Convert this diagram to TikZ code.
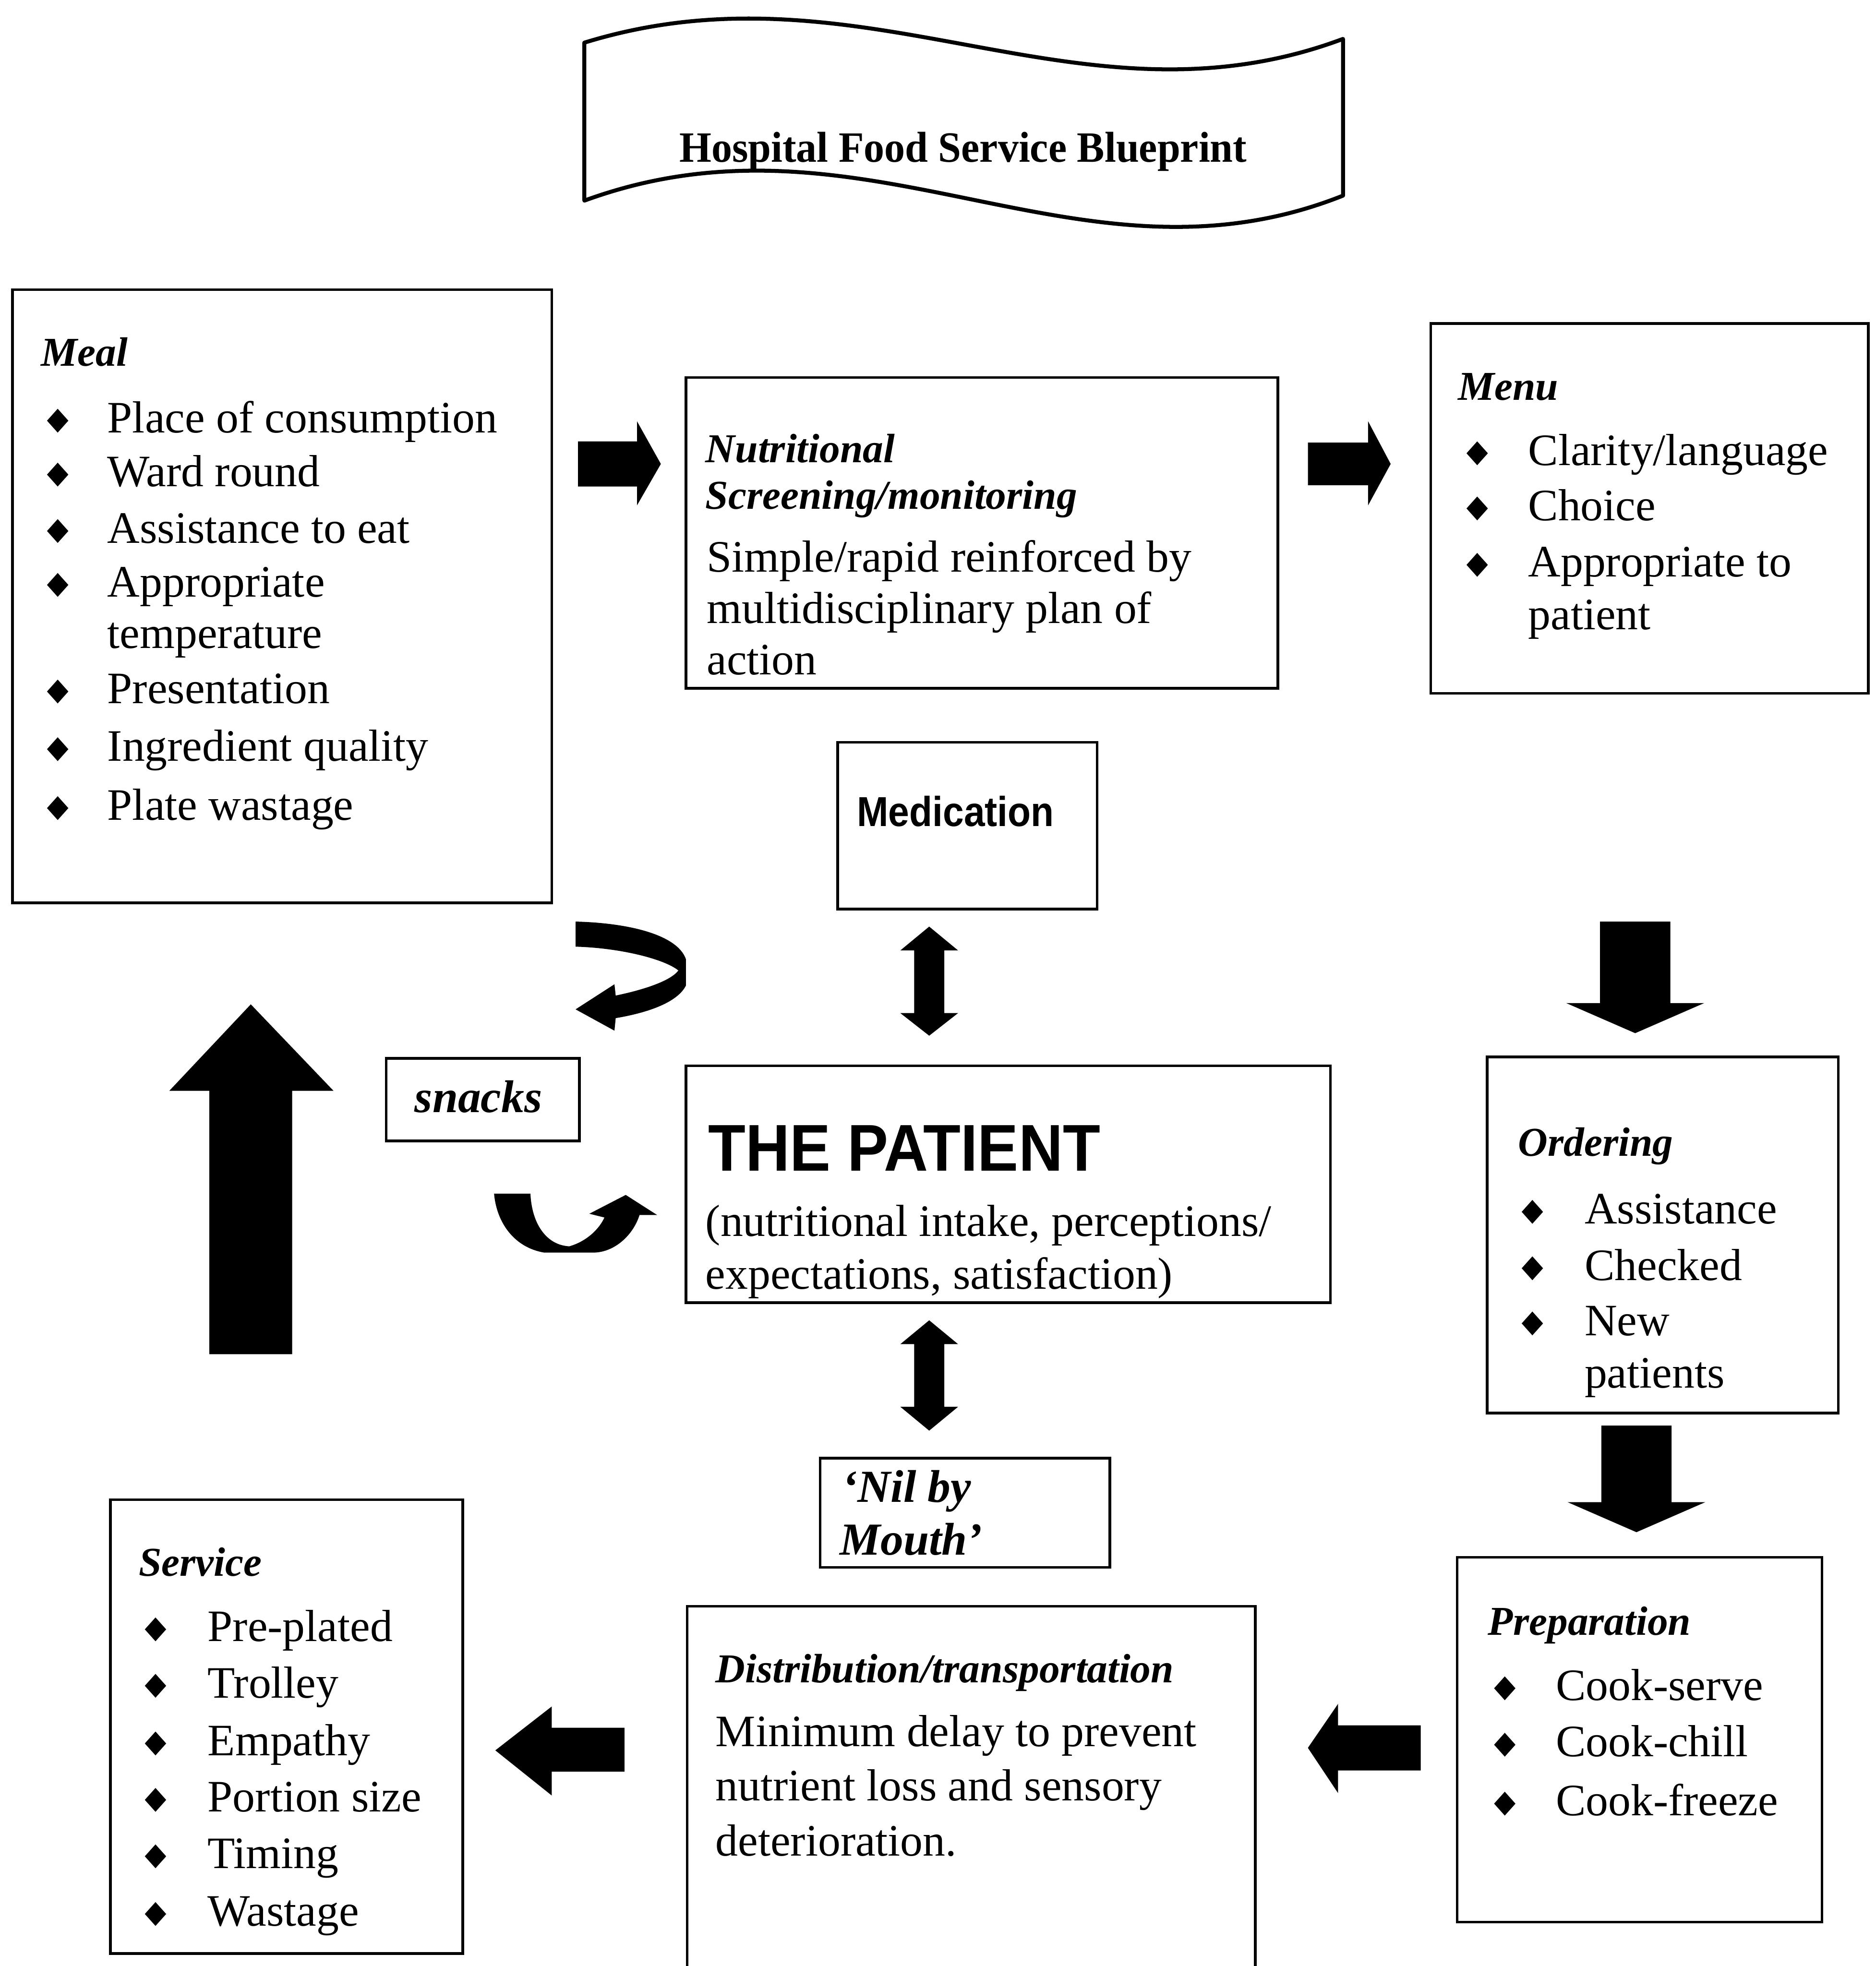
\documentclass[tikz,border=0pt]{standalone}
\usepackage{fontspec}
\usepackage{graphicx}
\setmainfont{Liberation Serif}
\newfontfamily\sansfam{Liberation Sans}
\usetikzlibrary{fit}

% bullet line: name, diamond x, text x, baseline, text
\newcommand{\bulletitem}[5]{%
  \fill (#2,#4) ++(-8.5,-9.5) -- ++(8.5,-9.5) -- ++(8.5,9.5) -- ++(-8.5,9.5) -- cycle;
  \node[txt] (#1) at (#3,#4) {#5};}

\begin{document}
\begin{tikzpicture}[x=0.01cm, y=-0.01cm,
  box/.style={draw, line width=0.6pt, inner sep=0pt},
  txt/.style={inner sep=0pt, anchor=base west, font=\fontsize{10.2}{12.2}\selectfont},
  head/.style={inner sep=0pt, anchor=base west, font=\fontsize{9.3}{11}\selectfont\bfseries\itshape},
  lbl/.style={inner sep=0pt, anchor=base west, font=\fontsize{10.4}{12.5}\selectfont\bfseries\itshape},
  blk/.style={fill=black}]

\useasboundingbox (0,0) rectangle (1496,1568);
\clip (0,0) rectangle (1496,1568);

% ---- banner with the title
\draw[line width=0.9pt, line join=round]
  (466,34) .. controls (690,-35) and (860,110) .. (1071,31)
  -- (1071,156) .. controls (860,240) and (690,78) .. (466,160) -- cycle;
\node[inner sep=0pt, anchor=base, font=\fontsize{9.8}{12}\selectfont\bfseries]
  (title) at (768,129) {\scalebox{0.955}[1]{Hospital Food Service Blueprint}};

% ---- boxes
\node[box, fit={(10,231) (440,720)}] (meal) {};
\node[box, fit={(547,301) (1019,549)}] (nutri) {};
\node[box, fit={(1141,258) (1490,553)}] (menu) {};
\node[box, fit={(668,592) (875,725)}] (medic) {};
\node[box, fit={(308,844) (462,910)}] (snack) {};
\node[box, fit={(547,850) (1061,1039)}] (patient) {};
\node[box, fit={(1186,843) (1466,1127)}] (order) {};
\node[box, fit={(654,1163) (885,1250)}] (nbm) {};
\node[box, fit={(1162,1242) (1453,1533)}] (prep) {};
\node[box, fit={(548,1281) (1001,1600)}] (distr) {};
\node[box, fit={(88,1196) (369,1558)}] (serv) {};

% ---- Meal
\node[head] (mealh) at (32,292) {Meal};
\bulletitem{meal1}{46}{85}{345}{Place of consumption}
\bulletitem{meal2}{46}{85}{388}{Ward round}
\bulletitem{meal3}{46}{85}{433}{Assistance to eat}
\bulletitem{meal4}{46}{85}{476}{Appropriate}
\node[txt] (meal4b) at (85,517) {temperature};
\bulletitem{meal5}{46}{85}{561}{Presentation}
\bulletitem{meal6}{46}{85}{607}{Ingredient quality}
\bulletitem{meal7}{46}{85}{654}{Plate wastage}

% ---- Nutritional screening
\node[head] (nutrih1) at (562,369) {Nutritional};
\node[head] (nutrih2) at (562,406) {Screening/monitoring};
\node[txt] (nutri1) at (563,456) {Simple/rapid reinforced by};
\node[txt] (nutri2) at (563,497) {multidisciplinary plan of};
\node[txt] (nutri3) at (563,538) {action};

% ---- Menu
\node[head] (menuh) at (1162,319) {Menu};
\bulletitem{menu1}{1178}{1218}{371}{Clarity/language}
\bulletitem{menu2}{1178}{1218}{415}{Choice}
\bulletitem{menu3}{1178}{1218}{460}{Appropriate to}
\node[txt] (menu3b) at (1218,502) {patient};

% ---- Medication
\node[inner sep=0pt, anchor=base, font=\sansfam\bfseries\fontsize{9.5}{11}\selectfont]
  (medict) at (762,659) {\scalebox{0.9}[1]{Medication}};

% ---- snacks
\node[lbl] (snackt) at (330,887) {snacks};

% ---- The patient
\node[inner sep=0pt, anchor=base west, font=\sansfam\bfseries\fontsize{15}{18}\selectfont]
  (patientt) at (564,934) {\scalebox{0.925}[1]{THE PATIENT}};
\node[txt] (patient1) at (562,986) {(nutritional intake, perceptions/};
\node[txt] (patient2) at (562,1028) {expectations, satisfaction)};

% ---- Ordering
\node[head] (orderh) at (1210,922) {Ordering};
\bulletitem{order1}{1222}{1263}{976}{Assistance}
\bulletitem{order2}{1222}{1263}{1021}{Checked}
\bulletitem{order3}{1222}{1263}{1065}{New}
\node[txt] (order3b) at (1263,1107) {patients};

% ---- Nil by mouth
\node[lbl] (nbm1) at (671,1198) {‘Nil by};
\node[lbl] (nbm2) at (669,1240) {Mouth’};

% ---- Preparation
\node[head] (preph) at (1186,1304) {Preparation};
\bulletitem{prep1}{1200}{1240}{1356}{Cook-serve}
\bulletitem{prep2}{1200}{1240}{1401}{Cook-chill}
\bulletitem{prep3}{1200}{1240}{1448}{Cook-freeze}

% ---- Distribution
\node[head] (distrh) at (570,1342) {Distribution/transportation};
\node[txt] (distr1) at (570,1393) {Minimum delay to prevent};
\node[txt] (distr2) at (570,1436) {nutrient loss and sensory};
\node[txt] (distr3) at (570,1480) {deterioration.};

% ---- Service
\node[head] (servh) at (110,1257) {Service};
\bulletitem{serv1}{124}{165}{1309}{Pre-plated}
\bulletitem{serv2}{124}{165}{1354}{Trolley}
\bulletitem{serv3}{124}{165}{1400}{Empathy}
\bulletitem{serv4}{124}{165}{1445}{Portion size}
\bulletitem{serv5}{124}{165}{1490}{Timing}
\bulletitem{serv6}{124}{165}{1536}{Wastage}

% ---- block arrows
% meal -> nutritional screening
\fill[blk] (461,352) -- (508,352) -- (508,336) -- (527,370) -- (508,403) -- (508,388) -- (461,388) -- cycle;
% nutritional screening -> menu
\fill[blk] (1043,353) -- (1091,353) -- (1091,336) -- (1109,370) -- (1091,403) -- (1091,387) -- (1043,387) -- cycle;
% menu -> ordering
\fill[blk] (1276,735) -- (1332,735) -- (1332,800) -- (1359,800) -- (1304,824) -- (1249,800) -- (1276,800) -- cycle;
% ordering -> preparation
\fill[blk] (1277,1137) -- (1333,1137) -- (1333,1198) -- (1360,1198) -- (1305,1222) -- (1250,1198) -- (1277,1198) -- cycle;
% preparation -> distribution
\fill[blk] (1133,1376) -- (1067,1376) -- (1067,1359) -- (1043,1394) -- (1067,1430) -- (1067,1412) -- (1133,1412) -- cycle;
% distribution -> service
\fill[blk] (498,1378) -- (440,1378) -- (440,1361) -- (395,1396) -- (440,1432) -- (440,1413) -- (498,1413) -- cycle;
% service -> meal
\fill[blk] (167,1080) -- (167,870) -- (135,870) -- (200,801) -- (266,870) -- (233,870) -- (233,1080) -- cycle;
% medication <-> patient
\fill[blk] (741,739) -- (764,758) -- (753,758) -- (753,808) -- (764,808) -- (741,826)
  -- (718,808) -- (729,808) -- (729,758) -- (718,758) -- cycle;
% patient <-> nil by mouth
\fill[blk] (741,1053) -- (764,1072) -- (753,1072) -- (753,1122) -- (764,1122) -- (741,1141)
  -- (718,1122) -- (729,1122) -- (729,1072) -- (718,1072) -- cycle;

% ---- curved arrows around the snacks label
\fill[blk] (459,735) .. controls (500,736) and (540,745) .. (547,765) -- (547,786)
  .. controls (540,800) and (515,808) .. (491,812) -- (490,822) -- (459,805) -- (490,785)
  -- (491,794) .. controls (515,789) and (535,782) .. (541,774)
  .. controls (530,765) and (495,756) .. (459,755) -- cycle;
\fill[blk] (394,952) -- (423,952) .. controls (424,975) and (435,993) .. (454,994)
  .. controls (468,990) and (478,980) .. (482,971) -- (470,968) -- (499,953) -- (524,969)
  -- (510,969) .. controls (505,985) and (490,999) .. (473,999) -- (434,999)
  .. controls (410,995) and (396,975) .. (394,952) -- cycle;

\end{tikzpicture}
\end{document}
